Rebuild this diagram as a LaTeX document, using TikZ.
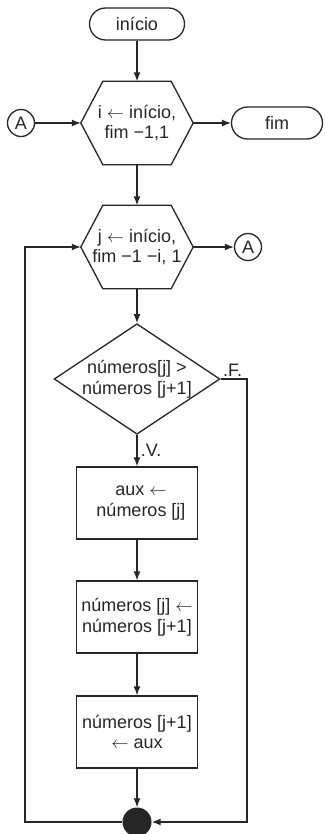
\documentclass[tikz,border=0pt]{standalone}
\usepackage{fontspec}
\setmainfont{Liberation Sans}
\usetikzlibrary{arrows.meta}
\usetikzlibrary{shapes.geometric}
\tikzset{
    flow/.style={draw=black!85, line width=1.3pt},
    terminal/.style={flow, rectangle, rounded corners=16pt, minimum width=95pt, minimum height=32pt, inner sep=0pt},
    hexbox/.style={minimum width=112pt, minimum height=83pt, inner sep=0pt, align=center},
    decision/.style={flow, diamond, aspect=1.5, inner sep=0pt, align=center},
    process/.style={flow, rectangle, minimum width=121pt, minimum height=72pt, inner sep=0pt, align=center},
    connector/.style={flow, circle, minimum size=27pt, inner sep=0pt},
    junction/.style={circle, fill=black!85, minimum size=29pt, inner sep=0pt}}

\begin{document}
\begin{tikzpicture}[x=1pt, y=-1pt, >={Latex[length=9pt, width=7pt]},
    font=\fontsize{18}{20.5}\selectfont, text=black!85]

    \useasboundingbox (0,0) rectangle (324,834);

    \node[terminal] (S) at (137,24) {início};
    \node[hexbox] (H1) at (137,123) {i $\leftarrow$ início,\\fim −1,1};
    \node[connector] (A1) at (21,123) {A};
    \node[terminal, minimum width=91pt] (E) at (277,123) {fim};
    \node[hexbox] (H2) at (137,247) {j $\leftarrow$ início,\\fim −1 −i, 1};
    \node[connector] (A2) at (248,247) {A};
    \node[decision] (D) at (137,379) {números[j] >\\números [j+1]};
    \node[process] (P1) at (137,503) {\hspace{8pt}aux $\leftarrow$\\\hspace{8pt}números [j]};
    \node[process] (P2) at (137,617) {números [j] $\leftarrow$\\números [j+1]};
    \node[process] (P3) at (137,732) {números [j+1]\\$\leftarrow$ aux};
    \node[junction] (J) at (137,822) {};
    \coordinate (L) at (25,822);
    \coordinate (R) at (247,379);

    \foreach \h in {H1,H2}
        \draw[flow] (\h.west) -- ([xshift=22pt]\h.north west) -- ([xshift=-22pt]\h.north east)
            -- (\h.east) -- ([xshift=-22pt]\h.south east) -- ([xshift=22pt]\h.south west) -- cycle;

    \draw[flow, ->] (S) -- (H1.north);
    \draw[flow, ->] (A1) -- (H1.west);
    \draw[flow, ->] (H1.east) -- (E.west);
    \draw[flow, ->] (H1.south) -- (H2.north);
    \draw[flow, ->] (H2.east) -- (A2);
    \draw[flow, ->] (H2.south) -- (D.north);
    \draw[flow, ->] (D.south) -- node[right] {.V.} (P1.north);
    \draw[flow, ->] (P1) -- (P2);
    \draw[flow, ->] (P2) -- (P3);
    \draw[flow, ->] (P3) -- (J);
    \draw[flow, ->] (D.east) node[anchor=south west, inner sep=2pt] {.F.} -- (R) |- (J.east);
    \draw[flow, ->] (J.west) -- (L) |- (H2.west);

\end{tikzpicture}
\end{document}
